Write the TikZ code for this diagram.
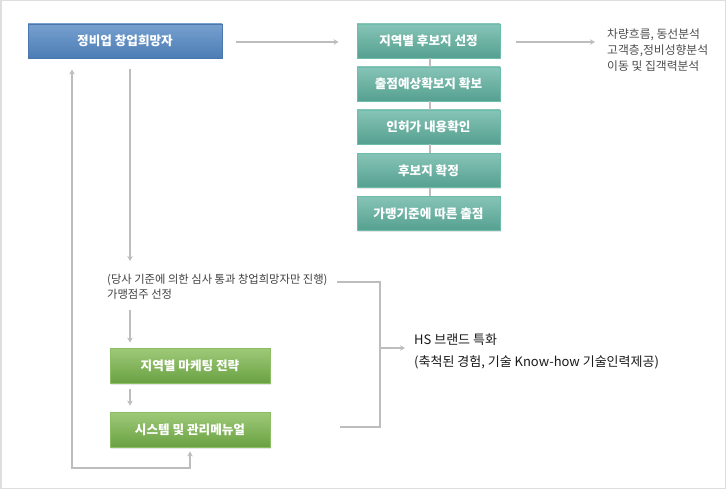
\documentclass[tikz,border=0pt]{standalone}
\usepackage{fontspec}
\setmainfont{Noto Sans CJK KR}
\usetikzlibrary{arrows.meta,shadows,calc}
\definecolor{lineg}{HTML}{BDBDBD}
\definecolor{frameg}{HTML}{DEDEDE}
\definecolor{bluetop}{HTML}{76A1CF}
\definecolor{bluebot}{HTML}{4D7CB5}
\definecolor{blueedge}{HTML}{4A77AE}
\definecolor{tealtop}{HTML}{86C4B7}
\definecolor{tealbot}{HTML}{55A090}
\definecolor{tealedge}{HTML}{6DBDAD}
\definecolor{greentop}{HTML}{9FCA79}
\definecolor{greenbot}{HTML}{6AA142}
\definecolor{greenedge}{HTML}{8CBF64}
\begin{document}
\begin{tikzpicture}[x=1pt,y=-1pt,
  boxbase/.style={draw, line width=0.8pt, minimum height=34pt, text=white, font=\bfseries\fontsize{12.6}{14}\selectfont, inner sep=0pt,
     drop shadow={shadow xshift=0.8pt, shadow yshift=-1.5pt, opacity=0.2}},
  bluebox/.style={boxbase, minimum width=194pt, top color=bluetop, bottom color=bluebot, draw=blueedge},
  tealbox/.style={boxbase, minimum width=143pt, top color=tealtop, bottom color=tealbot, draw=tealedge},
  greenbox/.style={boxbase, minimum width=160pt, minimum height=35pt, top color=greentop, bottom color=greenbot, draw=greenedge},
  conn/.style={draw=lineg, line width=1.3pt},
  arr/.style={conn, -{Stealth[length=5pt,width=5.5pt]}},
  darr/.style={conn, {Stealth[length=5pt,width=5.5pt]}-{Stealth[length=5pt,width=5.5pt]}},
  note/.style={align=left, anchor=north west, inner sep=0pt},
]
% frame
\draw[draw=frameg, line width=1.5pt] (0.75,0.75) rectangle (725.25,488.25);
\useasboundingbox (0,0) rectangle (726,489);

% top row
\node[bluebox] (blue) at (125,41) {정비업 창업희망자};
\node[tealbox] (t1) at (428.5,41) {지역별 후보지 선정};
\node[tealbox] (t2) at (428.5,84) {출점예상확보지 확보};
\node[tealbox] (t3) at (428.5,127) {인허가 내용확인};
\node[tealbox] (t4) at (428.5,170.5) {후보지 확정};
\node[tealbox] (t5) at (428.5,213.5) {가맹기준에 따른 출점};

\node[note, text=black!70, font=\fontsize{11.8}{16}\selectfont] (info) at (607,28.5) {차량흐름, 동선분석\\고객층,정비성향분석\\이동 및 집객력분석};

\coordinate (ia) at (516,42);
\coordinate (ib) at (595,42);
\draw[arr] ($(blue.east)+(14,1)$) -- ($(t1.west)+(-18,1)$);
\draw[arr] (ia) -- (ib);

\foreach \a/\b in {t1/t2,t2/t3,t3/t4,t4/t5}
  \draw[draw=lineg, line width=2pt] ($(\a.south)+(1.5,0)$) -- ($(\b.north)+(1.5,0)$);

% lower part
\node[note, text=black!75, font=\fontsize{11.3}{15.5}\selectfont] (sel) at (107,273.5) {(당사 기준에 의한 심사 통과 창업희망자만 진행)\\가맹점주 선정};
\node[greenbox] (g1) at (190,365.5) {지역별 마케팅 전략};
\node[greenbox] (g2) at (190,429.5) {시스템 및 관리메뉴얼};

\node[anchor=west, align=left, inner sep=0pt, text=black!90, font=\fontsize{13}{22}\selectfont] (hs) at (414,351) {HS 브랜드 특화\\(축척된 경험, 기술 Know-how 기술인력제공)};

\coordinate (dtop) at (130,69);
\coordinate (dbot) at (130,261);
\draw[arr] (dtop) -- (dbot);
\draw[arr] (130,310) -- ($(g1.north)+(-60,-5)$);
\draw[arr] ($(g1.south)+(-60,6)$) -- ($(g2.north)+(-60,-6)$);

\coordinate (lc) at (72,468);
\coordinate (rc) at (190,468);
\draw[darr] ($(blue.south)+(-53,11)$) -- (lc) -- (rc) -- ($(g2.south)+(0,4)$);

% bracket
\coordinate (br1) at (337,282);
\coordinate (br2) at (380,282);
\coordinate (br3) at (380,427);
\coordinate (br4) at (340,427);
\coordinate (brm) at (380,348);
\draw[conn] (br1) -- (br2) -- (br3) -- (br4);
\draw[arr] (brm) -- ($(hs.west)+(-9,-3)$);
\end{tikzpicture}
\end{document}
